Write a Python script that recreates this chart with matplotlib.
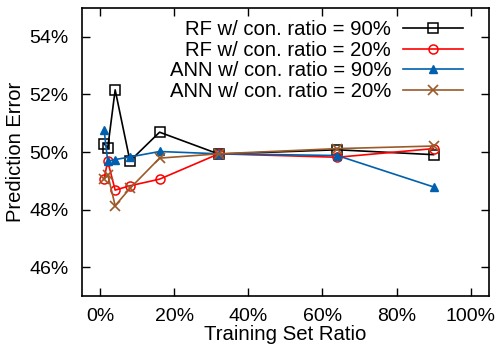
import matplotlib
matplotlib.use("Agg")
import matplotlib.pyplot as plt
from matplotlib.ticker import FuncFormatter, MultipleLocator

plt.rcParams['font.family'] = ['Liberation Sans', 'DejaVu Sans']

x = [1, 2, 4, 8, 16, 32, 64, 90]
rf90 = [50.29, 50.15, 52.16, 49.69, 50.69, 49.93, 50.08, 49.91]
rf20 = [49.08, 49.68, 48.68, 48.83, 49.06, 49.94, 49.82, 50.12]
ann90 = [50.78, 49.68, 49.74, 49.83, 50.02, 49.94, 49.88, 48.79]
ann20 = [49.08, 49.22, 48.14, 48.74, 49.79, 49.94, 50.12, 50.21]
labels = ["RF w/ con. ratio = 90%", "RF w/ con. ratio = 20%",
          "ANN w/ con. ratio = 90%", "ANN w/ con. ratio = 20%"]

fig = plt.figure(figsize=(4.96, 3.5), dpi=100)
ax = fig.add_axes([0.165, 0.154, 0.821, 0.823])

lw = 1.2
ax.plot(x, rf90, color='black', lw=lw, marker='s', ms=6.5, mfc='none', mec='black', mew=1.1, label=labels[0])
ax.plot(x, rf20, color='#ff0000', lw=lw, marker='o', ms=6.5, mfc='none', mec='#ff0000', mew=1.1, label=labels[1])
ax.plot(x, ann90, color='#0060ad', lw=lw, marker='^', ms=6, mfc='#0060ad', mec='#0060ad', label=labels[2])
ax.plot(x, ann20, color='#9a5a2a', lw=lw, marker='x', ms=7, mew=1.2, label=labels[3])

ax.set_xlim(-5, 105)
ax.set_ylim(45, 55)
ax.xaxis.set_major_locator(MultipleLocator(20))
ax.set_yticks([46, 48, 50, 52, 54])
ax.xaxis.set_major_formatter(FuncFormatter(lambda v, p: f"{int(round(v))}%"))
ax.yaxis.set_major_formatter(FuncFormatter(lambda v, p: f"{int(round(v))}%"))
ax.tick_params(direction='in', length=6, width=1, top=True, right=True, labelsize=14)
ax.tick_params(axis='x', pad=8.5)
ax.tick_params(axis='y', pad=9.5)
for s in ax.spines.values():
    s.set_linewidth(1.2)

ax.set_xlabel("Training Set Ratio", fontsize=14.7, labelpad=0)
ax.set_ylabel("Prediction Error", fontsize=14.5, labelpad=3.5)

leg = ax.legend(loc='upper right', bbox_to_anchor=(0.946, 0.972), frameon=False, markerfirst=False,
                fontsize=14.6, handlelength=2.95, labelspacing=0.08, handletextpad=0.6,
                borderpad=0.2, borderaxespad=0)

fig.savefig("out.png", dpi=100)
